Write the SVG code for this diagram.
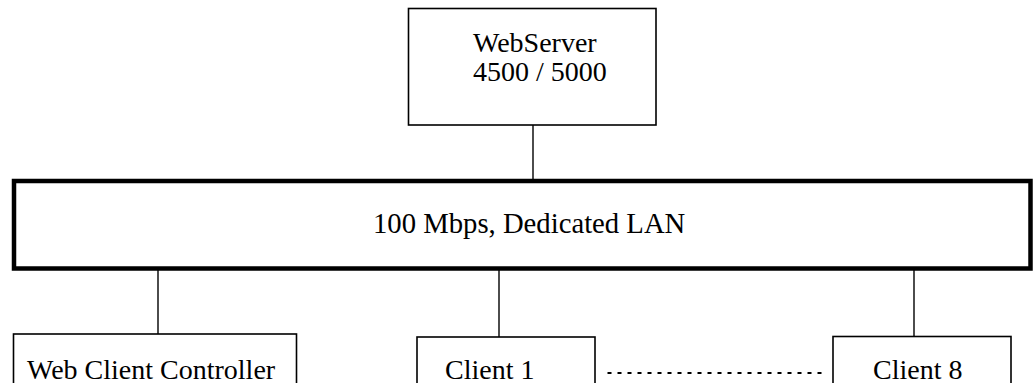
<svg xmlns="http://www.w3.org/2000/svg" width="1035" height="383" viewBox="0 0 1035 383">
<style>
.box{fill:#fff;stroke:#000;stroke-width:1.6}
.lan{fill:#fff;stroke:#000;stroke-width:4.5}
.t{font-family:"Liberation Serif","Times New Roman",serif;font-size:28px;fill:#000}
.c{stroke:#000;stroke-width:1.4;fill:none}
.d{stroke:#000;stroke-width:2;stroke-dasharray:4 6;fill:none}
</style>
<rect width="1035" height="383" fill="#fff"/>
<g id="connectors">
<line class="c" x1="533" y1="125" x2="533" y2="180"/>
<line class="c" x1="158" y1="268" x2="158" y2="334"/>
<line class="c" x1="499" y1="268" x2="499" y2="337"/>
<line class="c" x1="914" y1="268" x2="914" y2="336"/>
<line class="d" x1="607.5" y1="373" x2="822" y2="373"/>
</g>
<g id="webserver">
<rect class="box" x="408.5" y="8.5" width="247.5" height="116.5"/>
<text class="t" x="473" y="52">WebServer</text>
<text class="t" x="473" y="81">4500 / 5000</text>
</g>
<g id="lan">
<rect class="lan" x="14" y="181" width="1016.5" height="87.5"/>
<text class="t" x="373" y="233" style="font-size:28.7px">100 Mbps, Dedicated LAN</text>
</g>
<g id="controller">
<rect class="box" x="13.5" y="334" width="283" height="60"/>
<text class="t" x="27" y="379">Web Client Controller</text>
</g>
<g id="client1">
<rect class="box" x="417" y="337" width="178" height="60"/>
<text class="t" x="445" y="379">Client 1</text>
</g>
<g id="client8">
<rect class="box" x="833" y="336.5" width="178" height="60"/>
<text class="t" x="873" y="379">Client 8</text>
</g>
</svg>
